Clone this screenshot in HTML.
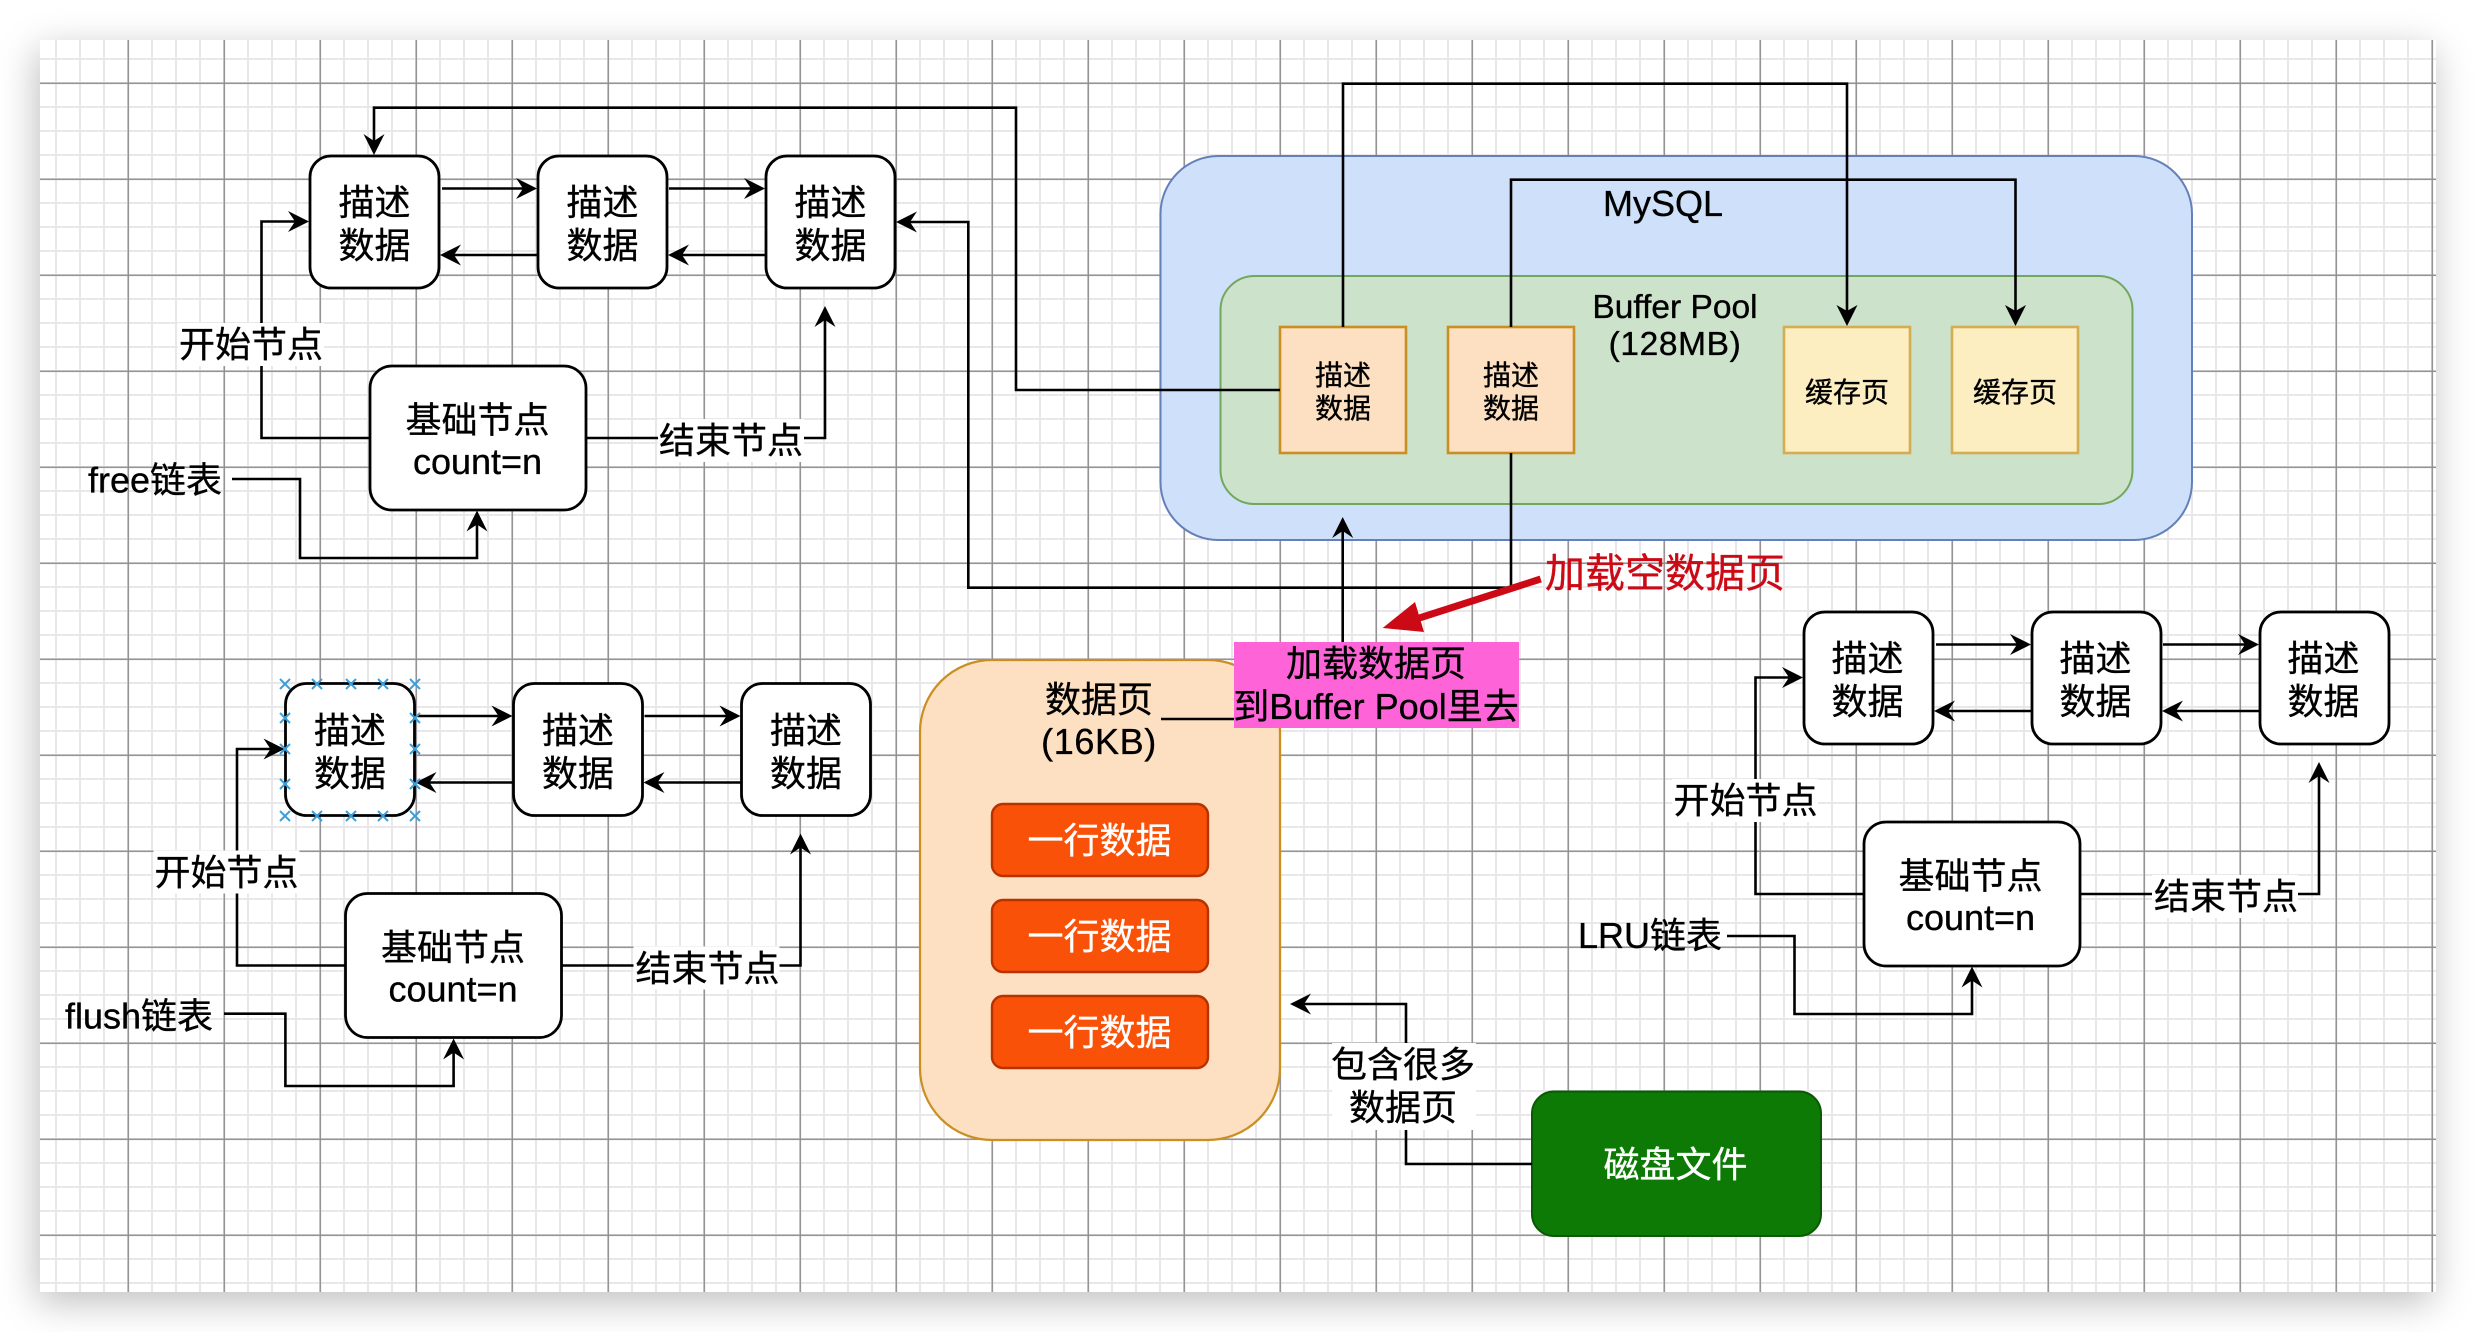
<!DOCTYPE html>
<html lang="zh"><head><meta charset="utf-8"><title>Buffer Pool diagram</title>
<style>
html,body{margin:0;padding:0;background:#fff;width:2476px;height:1332px;overflow:hidden}
#pg{position:absolute;left:40px;top:40px;width:2396px;height:1252px;background:#fff;box-shadow:-3px 10px 36px rgba(0,0,0,.26)}
svg{position:absolute;left:0;top:0}
text{font-family:"Liberation Sans","Noto Sans CJK SC",sans-serif;font-size:36px;fill:#000;stroke:#000;stroke-width:.35px;text-anchor:middle}
.l{fill:none;stroke:#000;stroke-width:2.6}
.b{fill:#fff;stroke:#000;stroke-width:2.8}
.h{fill:#000;stroke:none}
.s{text-anchor:start}
text.w{fill:#fff;stroke:#fff}
text.r{font-size:40px;fill:#cc0a16;stroke:#cc0a16}
</style></head><body>
<div id="pg"></div>
<svg width="2476" height="1332" viewBox="0 0 2476 1332" xmlns="http://www.w3.org/2000/svg">
<defs>
<pattern id="mn" patternUnits="userSpaceOnUse" x="7" y="10" width="24" height="24"><rect x="0" y="0" width="2" height="24" fill="#e9e7ea"/><rect x="0" y="0" width="24" height="2" fill="#e9e7ea"/></pattern>
<pattern id="mj" patternUnits="userSpaceOnUse" x="127.6" y="82.6" width="96" height="96"><rect x="0" y="0" width="1.4" height="96" fill="#8f8b8f"/><rect x="0" y="0" width="96" height="1.4" fill="#8f8b8f"/></pattern>
</defs>
<rect x="40" y="40" width="2396" height="1252" fill="url(#mn)"/>
<rect x="40" y="40" width="2396" height="1252" fill="url(#mj)"/>

<!-- MySQL -->
<rect x="1160.5" y="156" width="1031.5" height="384" rx="58" fill="#cfe1fa" stroke="#6480b8" stroke-width="2"/>
<rect x="1220.5" y="276" width="912" height="228" rx="34" fill="#cce2cb" stroke="#73a75c" stroke-width="2"/>
<text x="1663" y="216">MySQL</text>
<text x="1675" y="318" style="font-size:33.5px">Buffer Pool</text>
<text x="1675" y="355" style="font-size:33.5px;letter-spacing:.6px">(128MB)</text>
<rect x="1280" y="327" width="126" height="126" fill="#fddfc1" stroke="#c98f22" stroke-width="2.6"/>
<rect x="1448" y="327" width="126" height="126" fill="#fddfc1" stroke="#c98f22" stroke-width="2.6"/>
<rect x="1784" y="327" width="126" height="126" fill="#fdeec2" stroke="#d2ad52" stroke-width="2.6"/>
<rect x="1952" y="327" width="126" height="126" fill="#fdeec2" stroke="#d2ad52" stroke-width="2.6"/>
<text x="1343" y="385" style="font-size:28px">描述</text><text x="1343" y="418" style="font-size:28px">数据</text>
<text x="1511" y="385" style="font-size:28px">描述</text><text x="1511" y="418" style="font-size:28px">数据</text>
<text x="1847" y="402" style="font-size:28px">缓存页</text>
<text x="2015" y="402" style="font-size:28px">缓存页</text>

<path class="l" d="M1343 327V83.7H1847V312"/><path class="h" d="M1847 326l-10.500-21 10.500 6 10.500-6z"/>
<path class="l" d="M1511 327V179.700H2015.500V312"/><path class="h" d="M2015.500 326l-10.500-21 10.500 6 10.500-6z"/>
<path class="l" d="M1280 390H1016V107.700H374V142"/><path class="h" d="M374 155l-10.500-21 10.500 7 10.500-7z"/>
<path class="l" d="M1511 453V587.700H968.300V222H910"/><path class="h" d="M896 222l21-10.500-7 10.500 7 10.500z"/>
<path class="l" d="M1342.700 642V530"/><path class="h" d="M1342.700 517l-10.500 21 10.500-7 10.500 7z"/>

<!-- top-left list -->
<g>
<rect class="b" x="310" y="156" width="129" height="132" rx="21"/>
<rect class="b" x="538" y="156" width="129" height="132" rx="21"/>
<rect class="b" x="766" y="156" width="129" height="132" rx="21"/>
<text x="374.500" y="215">描述</text><text x="374.500" y="258">数据</text>
<text x="602.500" y="215">描述</text><text x="602.500" y="258">数据</text>
<text x="830.500" y="215">描述</text><text x="830.500" y="258">数据</text>
<path class="l" d="M442 188.500H524M669 188.500H752M538 255H454M766 255H682"/>
<path class="h" d="M537 188.500l-21-10.500 7 10.500-7 10.500zM765 188.500l-21-10.500 7 10.500-7 10.500zM440 255l21-10.500-7 10.500 7 10.500zM668 255l21-10.500-7 10.500 7 10.500z"/>
<rect class="b" x="370" y="366" width="216" height="144" rx="22"/>
<text x="477.500" y="432.500">基础节点</text><text x="477.500" y="474">count=n</text>
<path class="l" d="M370 438H261.500V221.500H295"/><path class="h" d="M309 221.500l-21-10.500 7 10.500-7 10.500z"/>
<path class="l" d="M586 438H825V319"/><path class="h" d="M825 306l-10.500 21 10.500-7 10.500 7z"/>
<rect x="178" y="323" width="146" height="43" fill="#fff"/><text x="251" y="357">开始节点</text>
<rect x="658" y="419" width="146" height="43" fill="#fff"/><text x="731" y="453">结束节点</text>
</g>
<text class="s" x="88" y="492.500">free链表</text>
<path class="l" d="M232 479H300V558H477V524"/><path class="h" d="M477 510.500l-10.500 21 10.500-7 10.500 7z"/>

<!-- bottom-left list -->
<g transform="translate(-24.500 527.500)">
<rect class="b" x="310" y="156" width="129" height="132" rx="21"/>
<rect class="b" x="538" y="156" width="129" height="132" rx="21"/>
<rect class="b" x="766" y="156" width="129" height="132" rx="21"/>
<text x="374.500" y="215.500">描述</text><text x="374.500" y="258.500">数据</text>
<text x="602.500" y="215.500">描述</text><text x="602.500" y="258.500">数据</text>
<text x="830.500" y="215.500">描述</text><text x="830.500" y="258.500">数据</text>
<path class="l" d="M442 188.500H524M669 188.500H752M538 255H454M766 255H682"/>
<path class="h" d="M537 188.500l-21-10.500 7 10.500-7 10.500zM765 188.500l-21-10.500 7 10.500-7 10.500zM440 255l21-10.500-7 10.500 7 10.500zM668 255l21-10.500-7 10.500 7 10.500z"/>
<rect class="b" x="370" y="366" width="216" height="144" rx="22"/>
<text x="477.500" y="432.500">基础节点</text><text x="477.500" y="474">count=n</text>
<path class="l" d="M370 438H261.500V221.500H295"/><path class="h" d="M309 221.500l-21-10.500 7 10.500-7 10.500z"/>
<path class="l" d="M586 438H825V319"/><path class="h" d="M825 306l-10.500 21 10.500-7 10.500 7z"/>
<rect x="178" y="323" width="146" height="43" fill="#fff"/><text x="251" y="357.500">开始节点</text>
<rect x="658" y="419" width="146" height="43" fill="#fff"/><text x="732" y="453.500">结束节点</text>
</g>
<text class="s" x="65" y="1028.500">flush链表</text>
<path class="l" d="M224 1013.700H285.400V1086H453.600V1052"/><path class="h" d="M453.600 1038.500l-10.500 21 10.500-7 10.500 7z"/>
<path d="M280 679l10 10M290 679l-10 10M312 679l10 10M322 679l-10 10M346 679l10 10M356 679l-10 10M378 679l10 10M388 679l-10 10M410 679l10 10M420 679l-10 10M280 713l10 10M290 713l-10 10M410 713l10 10M420 713l-10 10M280 744l10 10M290 744l-10 10M410 744l10 10M420 744l-10 10M280 779l10 10M290 779l-10 10M410 779l10 10M420 779l-10 10M280 811l10 10M290 811l-10 10M312 811l10 10M322 811l-10 10M346 811l10 10M356 811l-10 10M378 811l10 10M388 811l-10 10M410 811l10 10M420 811l-10 10" fill="none" stroke="#3c9fdc" stroke-width="2"/>

<!-- right list -->
<g transform="translate(1494 456)">
<rect class="b" x="310" y="156" width="129" height="132" rx="21"/>
<rect class="b" x="538" y="156" width="129" height="132" rx="21"/>
<rect class="b" x="766" y="156" width="129" height="132" rx="21"/>
<text x="373.500" y="215">描述</text><text x="373.500" y="258">数据</text>
<text x="601.500" y="215">描述</text><text x="601.500" y="258">数据</text>
<text x="829.500" y="215">描述</text><text x="829.500" y="258">数据</text>
<path class="l" d="M442 188.500H524M669 188.500H752M538 255H454M766 255H682"/>
<path class="h" d="M537 188.500l-21-10.500 7 10.500-7 10.500zM765 188.500l-21-10.500 7 10.500-7 10.500zM440 255l21-10.500-7 10.500 7 10.500zM668 255l21-10.500-7 10.500 7 10.500z"/>
<rect class="b" x="370" y="366" width="216" height="144" rx="22"/>
<text x="476.500" y="432.500">基础节点</text><text x="476.500" y="474">count=n</text>
<path class="l" d="M370 438H261.500V221.500H295"/><path class="h" d="M309 221.500l-21-10.500 7 10.500-7 10.500z"/>
<path class="l" d="M586 438H825V319"/><path class="h" d="M825 306l-10.500 21 10.500-7 10.500 7z"/>
<rect x="178" y="323" width="146" height="43" fill="#fff"/><text x="251.500" y="357">开始节点</text>
<rect x="658" y="419" width="146" height="43" fill="#fff"/><text x="732" y="453">结束节点</text>
</g>
<text class="s" x="1578" y="948">LRU链表</text>
<path class="l" d="M1727 936H1794.500V1014H1972V980"/><path class="h" d="M1972 966.500l-10.500 21 10.500-7 10.500 7z"/>

<!-- data page -->
<rect x="920" y="660" width="360" height="480" rx="72" fill="#fddfc1" stroke="#c98f22" stroke-width="2.2"/>
<text x="1099" y="712">数据页</text>
<text x="1099" y="754" style="letter-spacing:.6px">(16KB)</text>
<path class="l" d="M1161 719H1234"/>
<rect x="992" y="804" width="216" height="72" rx="11" fill="#fa5109" stroke="#b83100" stroke-width="2.4"/>
<rect x="992" y="900" width="216" height="72" rx="11" fill="#fa5109" stroke="#b83100" stroke-width="2.4"/>
<rect x="992" y="996" width="216" height="72" rx="11" fill="#fa5109" stroke="#b83100" stroke-width="2.4"/>
<text class="w" x="1099.500" y="853">一行数据</text>
<text class="w" x="1099.500" y="949">一行数据</text>
<text class="w" x="1099.500" y="1045">一行数据</text>

<!-- purple label -->
<rect x="1234" y="642" width="285" height="86" fill="#ff63d8"/>
<text x="1376" y="676">加载数据页</text>
<text x="1376" y="719">到Buffer Pool里去</text>

<!-- disk -->
<rect x="1532" y="1091.500" width="289" height="144.500" rx="22" fill="#0e7a06" stroke="#0a5a04" stroke-width="2"/>
<text class="w" x="1675.500" y="1177">磁盘文件</text>
<path class="l" d="M1532 1164H1406V1004H1303"/><path class="h" d="M1290 1004l21-10.500-7 10.500 7 10.500z"/>
<rect x="1332" y="1043" width="144" height="87" fill="#fff"/>
<text x="1403" y="1077">包含很多</text>
<text x="1403" y="1120">数据页</text>

<!-- red annotation -->
<path d="M1540.700 579L1410 621" fill="none" stroke="#cc0a16" stroke-width="7"/>
<path d="M1382.700 628L1415 602L1424 632z" fill="#cc0a16"/>
<text class="r" x="1665" y="587">加载空数据页</text>
</svg>
</body></html>
